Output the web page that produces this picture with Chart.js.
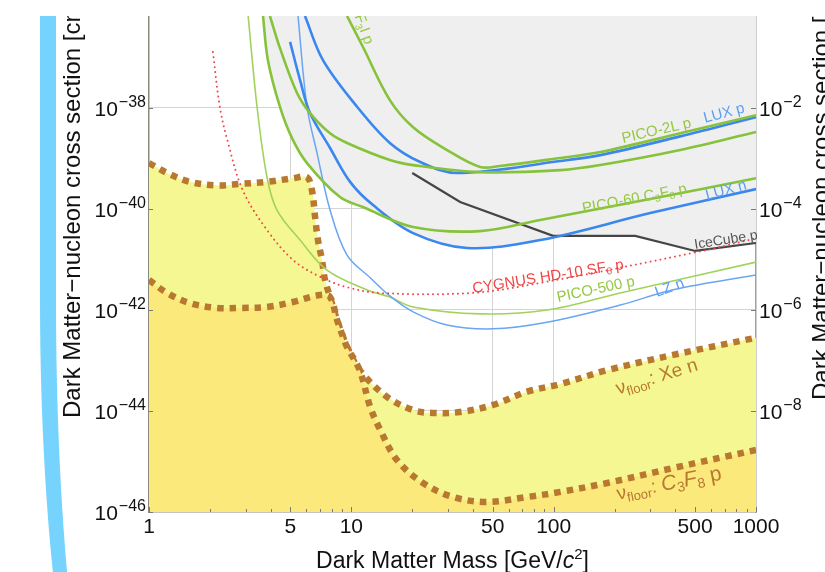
<!DOCTYPE html>
<html>
<head>
<meta charset="utf-8">
<title>Dark matter spin-dependent limits</title>
<script src="https://cdn.jsdelivr.net/npm/chart.js@4.4.1/dist/chart.umd.min.js"></script>
<style>
  html, body { margin: 0; padding: 0; background: #fff; overflow: hidden; }
  #wrap { position: relative; width: 825px; height: 572px; overflow: hidden; }
  #plot { position: absolute; left: 0; top: 0; }
  /* slide bracket on the left */
  #bracket {
    position: absolute; left: 40px; top: 16px; width: 900px; height: 784px;
    box-sizing: border-box;
    border-left: 16px solid #76d3fd; border-bottom: 16px solid #76d3fd;
    border-bottom-left-radius: 80px 500px;
  }
</style>
</head>
<body>
<div id="wrap">
  <canvas id="plot" width="825" height="572"></canvas>
  <div id="bracket"></div>
</div>
<script>
// Masses in GeV/c^2, cross sections in cm^2 ([mass, sigma] pairs)
const xTickLabels = [1, 5, 10, 50, 100, 500, 1000];
const xGridMasses = [5, 10, 50, 100, 500];
const yTickExps = [-46, -44, -42, -40, -38];
const pbTickExps = [-8, -6, -4, -2];

// lower edge of the already excluded region
const excludedEdge = [
  [3.66, 6.5e-37], [3.87, 8.7e-38], [4.44, 1.03e-38], [5.09, 2.5e-39], [6.04, 8.0e-40],
  [8.79, 1.7e-40], [11.4, 1.08e-40], [15.5, 6.9e-41], [20.2, 3.3e-41], [37.3, 1.67e-41],
  [85.7, 2.4e-41], [96, 2.6e-41], [253, 2.9e-41], [500, 1.46e-41], [1000, 2.1e-41]
];

// neutrino floors
const xeFloor = [
  [1, 8.0e-40], [1.23, 5.1e-40], [1.59, 3.4e-40], [2.17, 2.9e-40], [2.82, 3.1e-40],
  [3.83, 3.4e-40], [5.15, 4.0e-40], [6.04, 4.2e-40], [6.39, 2.3e-40], [6.62, 6.9e-41],
  [6.84, 2.4e-41], [7.16, 9.7e-42], [7.41, 3.9e-42], [7.85, 1.79e-42], [8.50, 6.3e-43],
  [9.10, 2.9e-43], [9.52, 1.84e-43], [11.0, 6.4e-44], [15.0, 1.9e-44], [20.2, 1.04e-44],
  [25.3, 9.1e-45], [34.5, 9.5e-45], [50.1, 1.31e-44], [73.9, 2.4e-44], [108, 3.4e-44],
  [184, 6.4e-44], [389, 1.28e-43], [1000, 2.8e-43]
];
const c3f8Floor = [
  [1, 3.9e-42], [1.23, 2.15e-42], [1.59, 1.36e-42], [2.17, 1.09e-42], [2.82, 1.09e-42],
  [3.83, 1.14e-42], [5.15, 1.43e-42], [7.00, 1.96e-42], [7.85, 1.79e-42], [8.50, 6.3e-43],
  [9.10, 2.9e-43], [9.52, 1.84e-43], [11.0, 6.4e-44], [12.4, 1.19e-44], [13.9, 4.2e-45],
  [16.8, 1.07e-45], [22.6, 3.75e-46], [31.8, 1.98e-46], [46.9, 1.58e-46], [73.9, 1.98e-46],
  [108, 2.5e-46], [184, 3.75e-46], [389, 7.4e-46], [1000, 1.69e-45]
];

// limits
const pico60 = [
  [3.66, 6.5e-37], [3.87, 8.7e-38], [4.44, 1.03e-38], [5.09, 2.5e-39], [6.04, 8.0e-40],
  [8.79, 1.7e-40], [11.4, 1.08e-40], [20.2, 4.35e-41], [43.3, 3.6e-41], [85.7, 6.0e-41],
  [300, 1.56e-40], [1000, 4.0e-40]
];
const pico2l = [
  [3.96, 6.5e-37], [4.44, 1.5e-37], [5.39, 1.95e-38], [6.25, 7.8e-39], [7.85, 3.1e-39],
  [9.52, 2.0e-39], [15.5, 9.2e-40], [20.2, 7.3e-40], [43.3, 5.3e-40], [108, 5.8e-40],
  [170, 7.3e-40], [422, 1.45e-39], [1000, 3.3e-39]
];
const picoCf3i = [
  [9.52, 6.5e-37], [11.4, 1.6e-37], [15.5, 1.41e-38], [20.2, 4.1e-39], [29.7, 1.45e-39],
  [43.3, 6.7e-40], [54.3, 7.0e-40], [108, 1.01e-39], [170, 1.32e-39], [422, 3.1e-39],
  [1000, 7.1e-39]
];
const luxP = [
  [5.90, 6.5e-37], [7.24, 8.7e-38], [10.7, 1.03e-38], [15.5, 2.0e-39], [21.9, 8.4e-40],
  [33.3, 5.1e-40], [108, 8.8e-40], [170, 1.15e-39], [422, 2.7e-39], [1000, 6.5e-39]
];
const luxN = [
  [4.98, 2.0e-37], [5.58, 3.5e-38], [6.25, 7.8e-39], [7.85, 1.59e-39], [9.86, 3.4e-40],
  [12.8, 1.18e-40], [20.2, 3.3e-41], [37.3, 1.67e-41], [85.7, 2.4e-41], [300, 8.2e-41],
  [1000, 2.45e-40]
];
const iceCube = [
  [20.0, 5.1e-40], [34.5, 1.36e-40], [99.3, 2.9e-41], [253, 2.9e-41], [500, 1.46e-41],
  [1000, 2.1e-41]
];

// projections
const lzN = [
  [5.45, 6.5e-37], [6.04, 1.03e-38], [6.77, 1.26e-39], [7.85, 9.4e-41], [9.52, 1.21e-41],
  [12.4, 4.3e-42], [15.5, 1.88e-42], [20.2, 9.1e-43], [29.7, 5.0e-43], [50.1, 4.2e-43],
  [92.7, 5.7e-43], [213, 1.24e-42], [389, 2.5e-42], [1000, 4.9e-42]
];
const pico500 = [
  [3.09, 6.5e-37], [3.42, 1.03e-38], [3.83, 4.2e-40], [4.29, 9.4e-41],
  [5.58, 2.4e-41], [7.58, 6.1e-42], [11.9, 2.5e-42], [15.5, 1.79e-42], [20.2, 1.14e-42],
  [43.3, 8.3e-43], [92.7, 9.9e-43], [213, 2.15e-42], [1000, 8.8e-42]
];
const cygnus = [
  [2.07, 1.26e-37], [2.24, 1.03e-38], [2.46, 2.0e-39], [2.91, 2.3e-40], [3.83, 3.8e-41],
  [5.15, 9.7e-42], [7.00, 4.5e-42], [9.52, 2.8e-42], [13.9, 2.15e-42], [38.6, 2.15e-42],
  [85.7, 3.4e-42], [512, 1.39e-41], [1000, 2.6e-41]
];

const FONT = '"Liberation Sans", Arial, Helvetica, sans-serif';
const GREEN = '#86c23a', GREEN_TXT = '#95c843';
const BLUE = '#3b87ee', BLUE_TXT = '#5a9ef2';
const RED = '#f04646';
const BROWN = '#b8782f';

// text labels placed along the curves: anchor [mass, sigma], angle in degrees
const curveLabels = [
  { at: [220, 2.0e-39], angle: -13, color: GREEN_TXT, parts: [['PICO-2L p', 15]] },
  { at: [560, 5.0e-39], angle: -15, color: BLUE_TXT, parts: [['LUX p', 15]] },
  { at: [140, 8.2e-41], angle: -11, color: GREEN_TXT,
    parts: [['PICO-60 C', 15], ['3', 10, 3], ['F', 15], ['8', 10, 3], [' p', 15]] },
  { at: [573, 1.49e-40], angle: -15, color: BLUE_TXT, parts: [['LUX n', 15]] },
  { at: [500, 1.6e-41], angle: -9, color: '#555', parts: [['IceCube p', 14]] },
  { at: [40, 2.15e-42], angle: -9, color: RED,
    parts: [['CYGNUS HD-10 SF', 15], ['6', 10, 3], [' p', 15]] },
  { at: [105, 1.43e-42], angle: -12, color: GREEN_TXT, parts: [['PICO-500 p', 15]] },
  { at: [324, 1.79e-42], angle: -20, color: BLUE_TXT, parts: [['LZ n', 15]] },
  { at: [11.7, 1.7e-37], angle: 70, color: GREEN_TXT, align: 'right',
    parts: [['PICO-60 CF', 15], ['3', 10, 3], ['I p', 15]] },
  { at: [208, 2.1e-44], angle: -17, color: BROWN,
    parts: [['ν', 19], ['floor', 13, 4], [': Xe n', 19]] },
  { at: [208, 1.75e-46], angle: -11, color: BROWN,
    parts: [['ν', 19], ['floor', 13, 4], [': ', 19], ['C', 21, 0, true], ['3', 14, 4],
            ['F', 21, 0, true], ['8', 14, 4], [' p', 21]] }
];

const toXY = arr => arr.map(([m, s]) => ({ x: m, y: s }));

function drawRich(ctx, parts, x, y, opt) {
  const fontOf = p => `${p[3] ? 'italic ' : ''}${p[1]}px ${FONT}`;
  const widths = parts.map(p => { ctx.font = fontOf(p); return ctx.measureText(p[0]).width; });
  const total = widths.reduce((a, b) => a + b, 0);
  ctx.save();
  ctx.translate(x, y);
  ctx.rotate((opt.angle || 0) * Math.PI / 180);
  ctx.fillStyle = opt.color;
  ctx.textAlign = 'left';
  ctx.textBaseline = 'alphabetic';
  let cx = opt.align === 'right' ? -total : opt.align === 'center' ? -total / 2 : 0;
  parts.forEach((p, i) => {
    ctx.font = fontOf(p);
    ctx.fillText(p[0], cx, p[2] || 0);
    cx += widths[i];
  });
  ctx.restore();
}

function line(ctx, x1, y1, x2, y2) {
  ctx.beginPath(); ctx.moveTo(x1, y1); ctx.lineTo(x2, y2); ctx.stroke();
}

const decor = {
  id: 'decor',
  afterDraw(chart) {
    const { ctx, chartArea: a, scales: { x, y, y2 } } = chart;
    ctx.save();

    // inward tick marks
    ctx.strokeStyle = '#7a7a7a';
    ctx.lineWidth = 1;
    x.ticks.forEach(t => {
      const px = Math.round(x.getPixelForValue(t.value)) + 0.5;
      const len = xTickLabels.includes(t.value) ? 5 : 3;
      line(ctx, px, a.bottom, px, a.bottom - len);
    });
    yTickExps.forEach(e => {
      const py = Math.round(y.getPixelForValue(10 ** e)) + 0.5;
      line(ctx, a.left, py, a.left + 4, py);
    });
    pbTickExps.forEach(e => {
      const py = Math.round(y2.getPixelForValue(10 ** e)) + 0.5;
      line(ctx, a.right, py, a.right - 5, py);
    });

    // tick labels
    ctx.fillStyle = '#111';
    ctx.font = `21px ${FONT}`;
    ctx.textAlign = 'center';
    ctx.textBaseline = 'alphabetic';
    xTickLabels.forEach(v => ctx.fillText(String(v), x.getPixelForValue(v), 533));

    const powerLabel = (e, px, py, align) => {
      ctx.font = `21px ${FONT}`;
      const w1 = ctx.measureText('10').width;
      ctx.font = `16px ${FONT}`;
      const sup = '\u2212' + Math.abs(e);
      const w2 = ctx.measureText(sup).width;
      const x0 = align === 'right' ? px - w1 - w2 - 1 : px;
      ctx.textAlign = 'left';
      ctx.font = `21px ${FONT}`;
      ctx.fillText('10', x0, py + 8);
      ctx.font = `16px ${FONT}`;
      ctx.fillText(sup, x0 + w1 + 1, py - 1);
    };
    yTickExps.forEach(e => powerLabel(e, 146, y.getPixelForValue(10 ** e), 'right'));
    pbTickExps.forEach(e => powerLabel(e, 759, y2.getPixelForValue(10 ** e), 'left'));

    // axis titles
    drawRich(ctx, [['Dark Matter Mass [GeV/', 23], ['c', 23, 0, true], ['2', 15, -9], [']', 23]],
      (a.left + a.right) / 2, 568, { color: '#111', align: 'center' });
    drawRich(ctx, [['Dark Matter\u2212nucleon cross section [cm', 24], ['2', 16, -9], [']', 24]],
      80, 418, { color: '#111', angle: -90 });
    drawRich(ctx, [['Dark Matter\u2212nucleon cross section [pb]', 24]],
      829, 400, { color: '#111', angle: -90 });

    // curve labels
    curveLabels.forEach(l => {
      drawRich(ctx, l.parts, x.getPixelForValue(l.at[0]), y.getPixelForValue(l.at[1]),
        { color: l.color, angle: l.angle, align: l.align });
    });

    // page band above the frame
    ctx.fillStyle = '#fff';
    ctx.fillRect(0, 0, chart.width, a.top);
    ctx.restore();
  }
};

const lineSet = (data, color, width, extra) => Object.assign({
  data: toXY(data), borderColor: color, borderWidth: width, pointRadius: 0,
  fill: false, tension: 0.35, order: 1
}, extra || {});

const massTicks = [];
[1, 10, 100].forEach(d => { for (let k = 1; k <= 9; k++) massTicks.push(k * d); });
massTicks.push(1000);

const gridGray = '#d4d4d4';

new Chart(document.getElementById('plot'), {
  type: 'line',
  data: {
    datasets: [
      lineSet(cygnus, RED, 2, { borderDash: [0.01, 5], borderCapStyle: 'round', order: 0 }),
      lineSet(pico60, GREEN, 2.6),
      lineSet(pico2l, GREEN, 2.6),
      lineSet(picoCf3i, GREEN, 2.6),
      lineSet(luxP, BLUE, 2.6),
      lineSet(luxN, BLUE, 2.6),
      lineSet(iceCube, '#454545', 2.2, { tension: 0 }),
      lineSet(lzN, '#6aa6f2', 1.5, { order: 2 }),
      lineSet(pico500, '#a3d25a', 1.6, { order: 2 }),
      lineSet(c3f8Floor, BROWN, 6.5, {
        borderDash: [6.5, 6], fill: 'start', backgroundColor: '#fbe97c', order: 8
      }),
      lineSet(xeFloor, BROWN, 6.5, {
        borderDash: [6.5, 6], fill: 'start', backgroundColor: '#f5f792', order: 9
      }),
      lineSet(excludedEdge, 'rgba(0,0,0,0)', 0, {
        fill: 'end', backgroundColor: '#efefef', order: 10
      })
    ]
  },
  options: {
    responsive: false,
    animation: false,
    events: [],
    layout: { padding: { left: 149, right: 69, top: 16, bottom: 60 } },
    plugins: { legend: { display: false }, tooltip: { enabled: false } },
    scales: {
      x: {
        type: 'logarithmic', min: 1, max: 1000,
        afterBuildTicks: s => { s.ticks = massTicks.map(v => ({ value: v })); },
        afterFit: s => { s.height = 0; },
        ticks: { display: false },
        grid: {
          drawTicks: false,
          color: c => (xGridMasses.includes(c.tick.value) ? gridGray : 'rgba(0,0,0,0)')
        },
        border: { color: '#8a8a8a', width: 1.5 }
      },
      y: {
        type: 'logarithmic', position: 'left', min: 1e-46, max: 6.5e-37,
        afterBuildTicks: s => { s.ticks = yTickExps.map(e => ({ value: 10 ** e })); },
        afterFit: s => { s.width = 0; },
        ticks: { display: false },
        grid: {
          drawTicks: false,
          color: c => (Math.round(Math.log10(c.tick.value)) > -46 ? gridGray : 'rgba(0,0,0,0)')
        },
        border: { color: '#8a8a7a', width: 1.5 }
      },
      y2: {
        type: 'logarithmic', position: 'right', min: 1e-10, max: 6.5e-1,
        afterFit: s => { s.width = 0; },
        ticks: { display: false },
        grid: { display: false, drawTicks: false },
        border: { color: '#a0a0a0', width: 1.5 }
      }
    }
  },
  plugins: [decor]
});
</script>
</body>
</html>
